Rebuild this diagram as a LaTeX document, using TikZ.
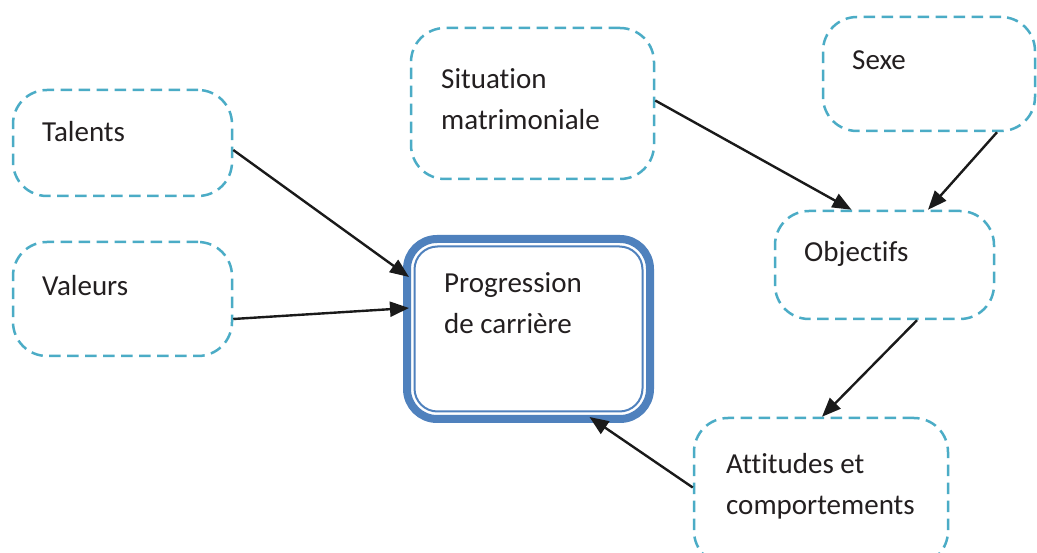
\documentclass[tikz,border=0pt]{standalone}
\usepackage{fontspec}
\setmainfont{Carlito}[Ligatures=NoCommon]
\usetikzlibrary{arrows.meta,calc}
\definecolor{dashcyan}{HTML}{4BACC6}
\definecolor{progblue}{HTML}{4F81BD}
\definecolor{txtcol}{HTML}{231F20}
\definecolor{arrcol}{HTML}{1A1A1A}
\tikzset{
  dbox/.style={draw=dashcyan, line width=2.5pt, dash pattern=on 11.5pt off 6.5pt, rounded corners=34pt, inner sep=0pt},
  txt/.style={text=txtcol, font=\fontsize{29}{40.5}\selectfont, inner sep=0pt, align=left, anchor=base west},
  conn/.style={draw=arrcol, line width=2.4pt, -{Triangle[length=19pt,width=15pt]}},
}
\begin{document}
\begin{tikzpicture}[x=1pt,y=-1pt]
\useasboundingbox[fill=white] (0,0) rectangle (1037,553);
% boxes
\node[dbox, minimum width=219pt, minimum height=106pt] (talents) at (122.5,143) {};
\node[dbox, minimum width=219pt, minimum height=114pt] (valeurs) at (122.5,299) {};
\node[dbox, minimum width=243pt, minimum height=151pt] (sit) at (532.5,103.5) {};
\node[dbox, minimum width=212pt, minimum height=114pt] (sexe) at (929,74) {};
\node[dbox, minimum width=219pt, minimum height=108pt] (obj) at (884.5,265) {};
\node[dbox, minimum width=254pt, minimum height=147pt] (att) at (821,491.5) {};
\node[draw=progblue, line width=8pt, rounded corners=30pt, minimum width=243pt, minimum height=180pt, inner sep=0pt] (prog) at (528.5,329) {};
\draw[progblue, line width=2pt, rounded corners=23pt] ($(prog.north west)+(11.5,11.5)$) rectangle ($(prog.south east)+(-11.5,-11.5)$);
% texts (base anchor of a two-line node is its last line)
\node[txt] (talentsT) at (42,142) {Talents};
\node[txt] (valeursT) at (42,296) {Valeurs};
\node[txt] (sitT) at (441,129.5) {Situation\\matrimoniale};
\node[txt] (sexeT) at (852,69.5) {Sexe};
\node[txt] (objT) at (804,262) {Objectifs};
\node[txt] (progT) at (444,333.5) {Progression\\de carrière};
\node[txt] (attT) at (726,514.5) {Attitudes et\\comportements};
% connectors
\draw[conn] ($(talents.east)+(0,7)$) -- ($(prog.west)+(6,-52)$);
\draw[conn] ($(valeurs.east)+(0,20)$) -- ($(prog.west)+(6,-21)$);
\draw[conn] ($(sit.east)+(0,-3)$) -- ($(obj.north)+(-33,0)$);
\draw[conn] ($(sexe.south)+(68,0)$) -- ($(obj.north)+(43.5,0)$);
\draw[conn] ($(obj.south)+(32.5,0)$) -- ($(att.north)+(1,0)$);
\draw[conn] ($(att.west)+(0,-4)$) -- ($(prog.south)+(61,-6)$);
\end{tikzpicture}
\end{document}
